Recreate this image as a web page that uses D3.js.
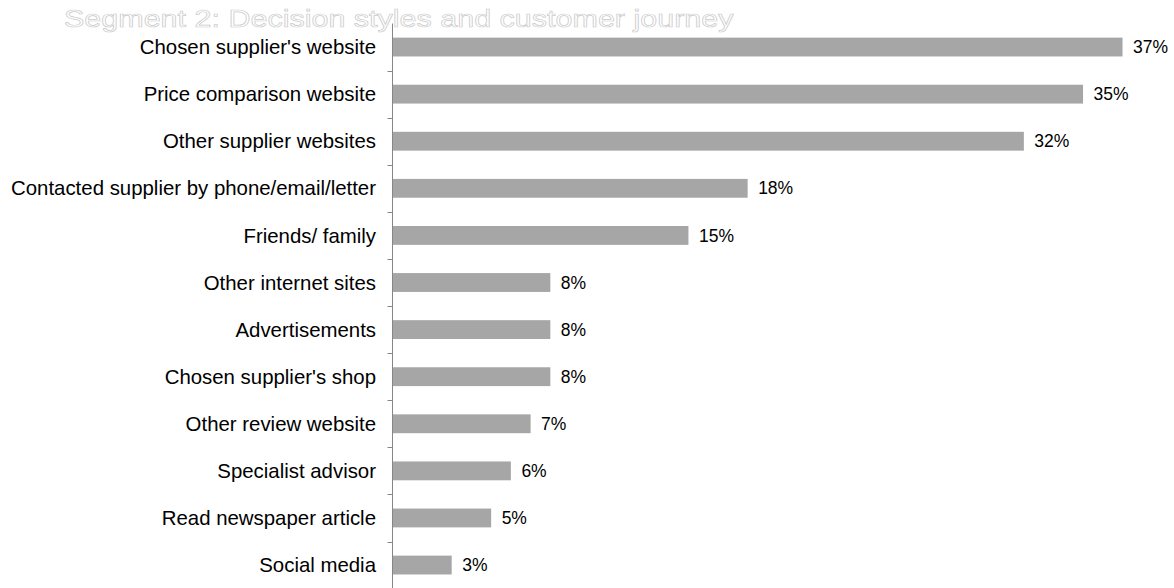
<!DOCTYPE html>
<html>
<head>
<meta charset="utf-8">
<script src="https://cdn.jsdelivr.net/npm/d3@7"></script>
<style>
  html, body { margin: 0; padding: 0; background: #ffffff; }
  svg { display: block; font-family: "Liberation Sans", Arial, sans-serif; }
</style>
</head>
<body>
<svg id="chart" width="1174" height="588"></svg>
<script>
// Sources consulted during the customer journey (share of respondents, %)
const chartTitle = "Segment 2: Decision styles and customer journey";
const categories = [
  "Chosen supplier's website",
  "Price comparison website",
  "Other supplier websites",
  "Contacted supplier by phone/email/letter",
  "Friends/ family",
  "Other internet sites",
  "Advertisements",
  "Chosen supplier's shop",
  "Other review website",
  "Specialist advisor",
  "Read newspaper article",
  "Social media"
];
const values = [37, 35, 32, 18, 15, 8, 8, 8, 7, 6, 5, 3];
const valueLabels = ["37%", "35%", "32%", "18%", "15%", "8%", "8%", "8%", "7%", "6%", "5%", "3%"];

const svg = d3.select("#chart");
const axisX = 392.5;

const x = d3.scaleLinear().domain([0, 40]).range([axisX, axisX + 19.73 * 40]);
const y = d3.scaleBand().domain(categories).range([23.5, 588.6]).paddingInner(0.6).paddingOuter(0.3);

// Bars
svg.append("g")
  .selectAll("rect")
  .data(values)
  .join("rect")
  .attr("x", x(0))
  .attr("y", (d, i) => y(categories[i]))
  .attr("width", d => x(d) - x(0))
  .attr("height", y.bandwidth())
  .attr("fill", "#a6a6a6");

// Value labels at the bar ends
svg.append("g")
  .selectAll("text")
  .data(values)
  .join("text")
  .attr("x", d => x(d) + 10.5)
  .attr("y", (d, i) => y(categories[i]) + y.bandwidth() / 2)
  .attr("dy", "0.35em")
  .attr("font-size", 17.5)
  .attr("fill", "#000")
  .text((d, i) => valueLabels[i]);

// Category axis: tick marks sit on band boundaries
const step = y.step();
const boundaries = categories.slice(0, -1).map(c => y(c) - y.paddingInner() * step / 2 + step);
const axis = svg.append("g");
axis.append("line")
  .attr("x1", axisX).attr("x2", axisX)
  .attr("y1", y.range()[0]).attr("y2", 588)
  .attr("stroke", "#868686").attr("stroke-width", 1);
axis.selectAll("line.tick")
  .data(boundaries)
  .join("line")
  .attr("class", "tick")
  .attr("x1", axisX - 5).attr("x2", axisX)
  .attr("y1", d => Math.round(d) + 0.5).attr("y2", d => Math.round(d) + 0.5)
  .attr("stroke", "#868686").attr("stroke-width", 1);

// Category labels
axis.selectAll("text")
  .data(categories)
  .join("text")
  .attr("x", 376)
  .attr("y", d => y(d) + y.bandwidth() / 2)
  .attr("dy", "0.35em")
  .attr("text-anchor", "end")
  .attr("font-size", 20.4)
  .attr("fill", "#000")
  .text(d => d);

// Outlined, horizontally widened title
svg.append("text")
  .attr("transform", "translate(64,27) scale(1.245,1)")
  .attr("font-size", 24.5)
  .attr("fill", "#ffffff")
  .attr("stroke", "#cccccc")
  .attr("stroke-width", 0.7)
  .text(chartTitle);
</script>
</body>
</html>
